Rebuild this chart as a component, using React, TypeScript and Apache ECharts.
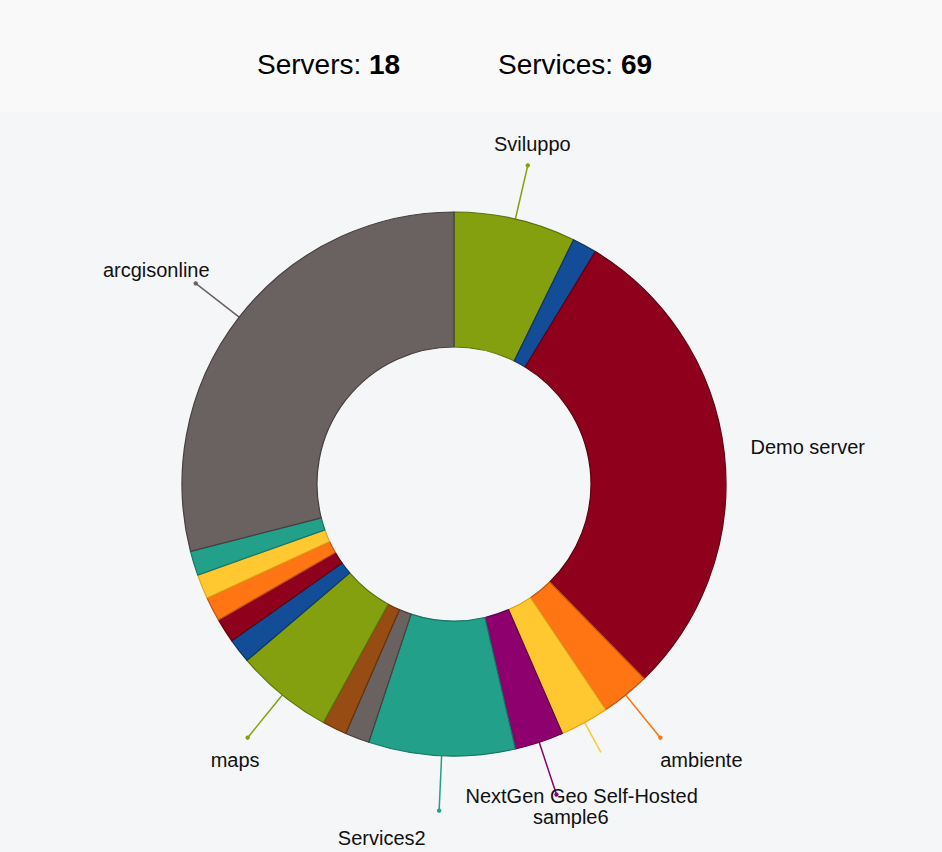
import React, { useEffect, useRef } from 'react';
import * as echarts from 'echarts';

// ---- Data ----
const serverNames = [
  'Sviluppo',
  'server 2',
  'Demo server',
  'ambiente',
  'NextGen Geo Self-Hosted',
  'sample6',
  'Services2',
  'server 8',
  'server 9',
  'maps',
  'server 11',
  'server 12',
  'server 13',
  'server 14',
  'server 15',
  'server 16',
  'arcgisonline',
  'server 18',
];
const serviceCounts = [5, 1, 20, 2, 2, 2, 6, 1, 1, 4, 1, 1, 1, 1, 0, 1, 20, 0];

const palette = ['#84a00e', '#134c97', '#8f001c', '#ff7413', '#ffc830', '#8d006e', '#22a089', '#6a6161', '#964c12'];
const borderPalette = ['#5e7209', '#0c346a', '#5e0011', '#c0560c', '#e0a418', '#5e0049', '#167563', '#463f3f', '#66330b'];

const serverCount = serverNames.length;
const totalServices = serviceCounts.reduce((a, b) => a + b, 0);

const slices = serverNames
  .map((name, i) => ({ name, value: serviceCounts[i], color: palette[i % palette.length], border: borderPalette[i % borderPalette.length] }))
  .filter((s) => s.value > 0);

// layout constants
const CX = 454;
const CY = 484;
const R_IN = 137;
const R_OUT = 272;
const LINE_LEN = 55;
const FONT = '"Liberation Sans", Arial, Helvetica, sans-serif';

const labelNudges: Record<string, { dx?: number; dy?: number; line?: number; guide?: boolean; dot?: boolean }> = {
  Sviluppo: { dx: -6, dy: 1 },
  'Demo server': { dx: -36, dy: 22, guide: false },
  ambiente: { dx: 10, dy: 0 },
  'NextGen Geo Self-Hosted': { dx: -89, dy: 3, line: 34, dot: false },
  Services2: { dx: -55, dy: 5 },
  maps: { dx: 8, dy: 0 },
  arcgisonline: { dx: 9, dy: 9 },
};

const midAngles: number[] = (() => {
  let cum = 0;
  return slices.map((s) => {
    const a = ((cum + s.value / 2) / totalServices) * Math.PI * 2;
    cum += s.value;
    return a;
  });
})();

export default function App() {
  const ref = useRef<HTMLDivElement>(null);
  useEffect(() => {
    if (!ref.current) return;
    const chart = echarts.init(ref.current, undefined, { renderer: 'svg' });
    const richStyle = {
      a: { fontSize: 28, fontFamily: FONT, color: '#000', fontWeight: 'normal', lineHeight: 32 },
      b: { fontSize: 28, fontFamily: FONT, color: '#000', fontWeight: 'bold', lineHeight: 32 },
    };
    const option: any = {
      animation: false,
      backgroundColor: '#f5f6f8',
      graphic: [
        {
          type: 'rect',
          left: 0,
          top: 0,
          z: 0,
          shape: { width: 942, height: 112 },
          style: { fill: '#f9f9f9' },
        },
      ],
      title: [
        {
          text: '{a|Servers: }{b|' + serverCount + '}',
          left: 257,
          top: 48,
          padding: 0,
          textStyle: { fontWeight: 'normal', rich: richStyle },
        },
        {
          text: '{a|Services: }{b|' + totalServices + '}',
          left: 498,
          top: 48,
          padding: 0,
          textStyle: { fontWeight: 'normal', rich: richStyle },
        },
      ],
      series: [
        {
          type: 'pie',
          center: [CX, CY],
          radius: [R_IN, R_OUT],
          startAngle: 90,
          clockwise: true,
          avoidLabelOverlap: false,
          silent: true,
          label: {
            position: 'outside',
            formatter: '{b}',
            fontSize: 20,
            fontFamily: FONT,
            color: '#111',
          },
          labelLine: { length: LINE_LEN, length2: 0, lineStyle: { width: 1.5 } },
          labelLayout: (params: any) => {
            const i = params.dataIndex;
            const s = slices[i];
            const a = midAngles[i];
            const ux = Math.sin(a);
            const uy = -Math.cos(a);
            const n = labelNudges[s.name] || {};
            const len = n.line ?? LINE_LEN;
            const start = [CX + R_OUT * ux, CY + R_OUT * uy];
            const end = [CX + (R_OUT + len) * ux, CY + (R_OUT + len) * uy];
            const ax = CX + (R_OUT + LINE_LEN) * ux;
            const ay = CY + (R_OUT + LINE_LEN) * uy;
            const w = params.labelRect.width;
            return {
              x: ax + ux * (w / 2 + 8) + (n.dx || 0),
              y: ay + Math.sign(uy) * 22 + (n.dy || 0),
              align: 'center',
              verticalAlign: 'middle',
              labelLinePoints: [start, end, end],
            };
          },
          data: slices.map((s) => {
            const n = labelNudges[s.name] || {};
            const show = s.value > 1;
            return {
              name: s.name,
              value: s.value,
              itemStyle: { color: s.color, borderColor: s.border, borderWidth: 1.2 },
              label: { show },
              labelLine: { show: show && n.guide !== false, lineStyle: { color: s.color } },
            };
          }),
        },
        {
          type: 'custom',
          coordinateSystem: 'none',
          silent: true,
          z: 5,
          data: slices.map((s) => [s.value]),
          renderItem: (params: any) => {
            const i = params.dataIndex;
            const s = slices[i];
            const n = labelNudges[s.name] || {};
            if (s.value <= 1 || n.guide === false || n.dot === false) return null;
            const a = midAngles[i];
            const len = n.line ?? LINE_LEN;
            const r = R_OUT + len;
            return {
              type: 'circle',
              shape: { cx: CX + r * Math.sin(a), cy: CY - r * Math.cos(a), r: 2.2 },
              style: { fill: s.color },
            };
          },
        },
      ],
    };
    chart.setOption(option);
    return () => chart.dispose();
  }, []);
  return (
    <div
      ref={ref}
      style={{ position: 'fixed', left: 0, top: 0, width: 942, height: 852, background: '#f5f6f8' }}
    />
  );
}
